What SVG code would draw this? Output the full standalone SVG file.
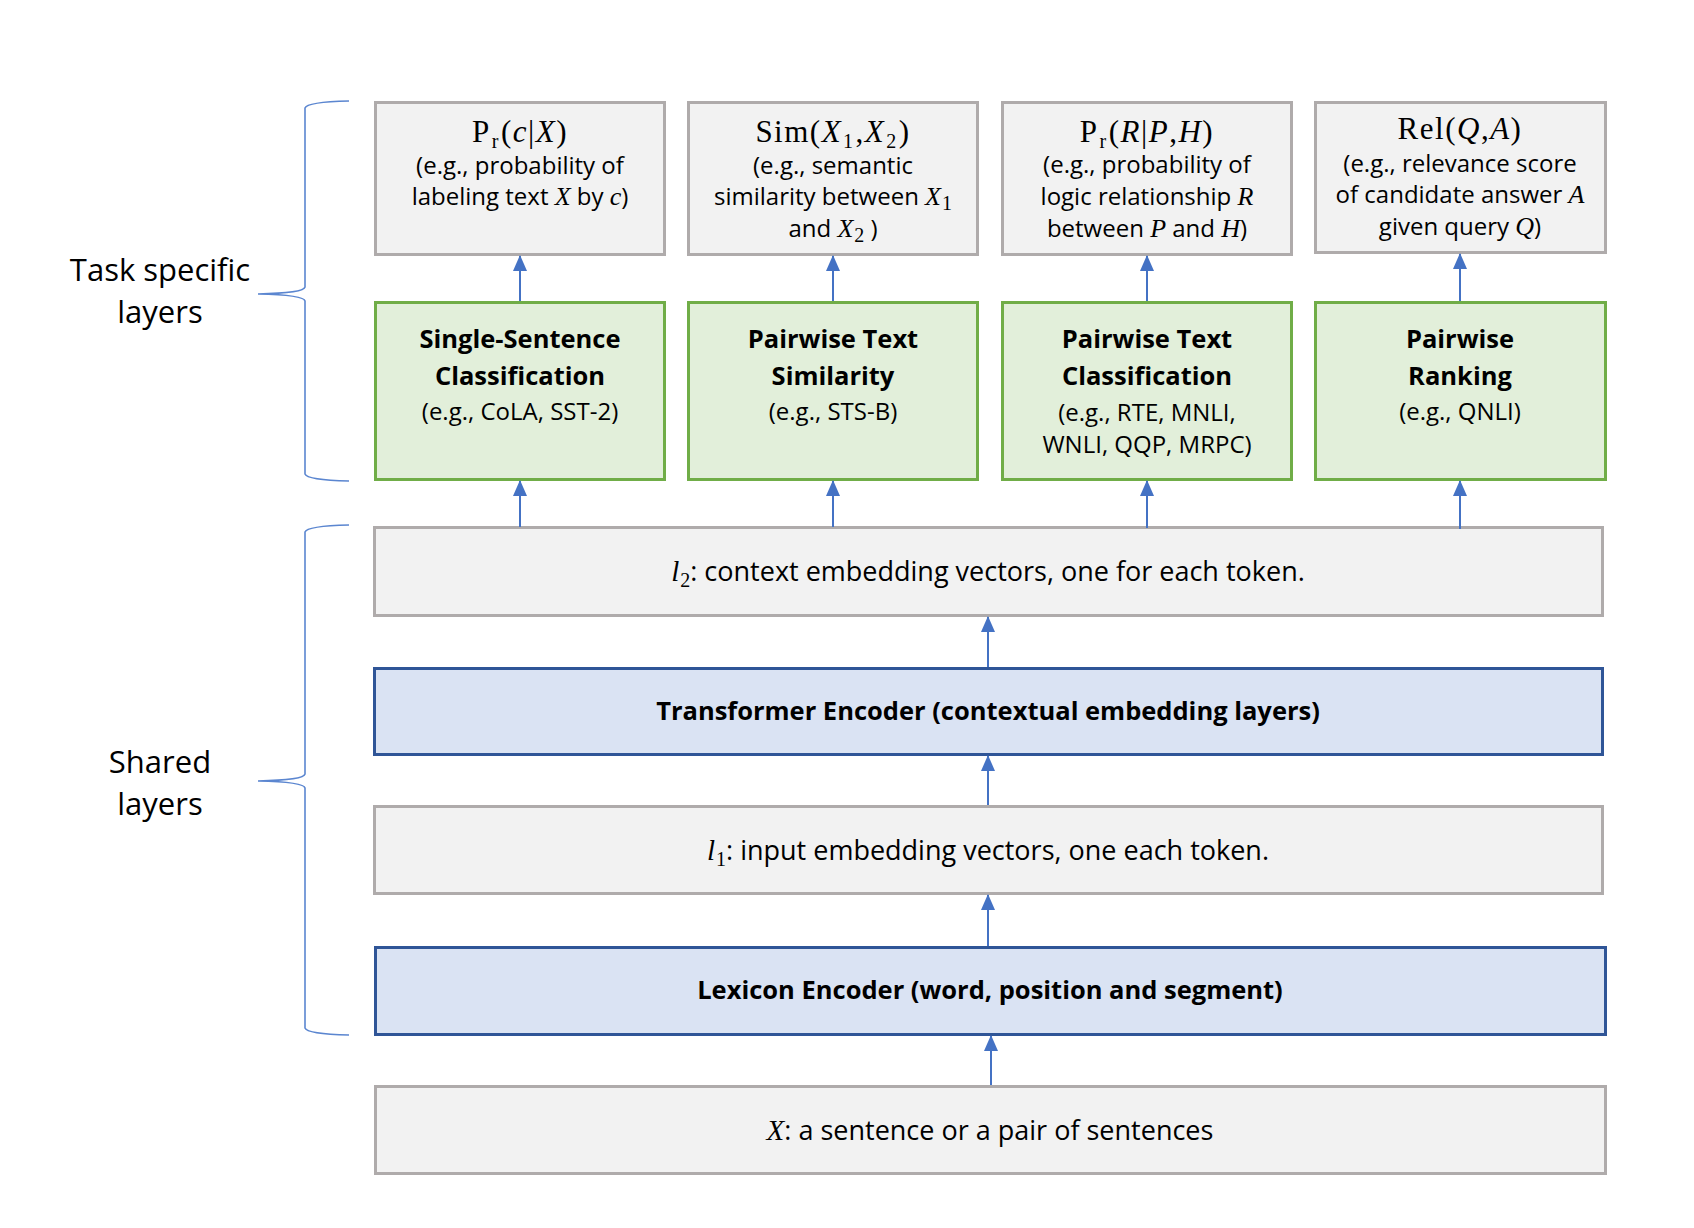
<svg xmlns="http://www.w3.org/2000/svg" width="1694" height="1228" viewBox="0 0 1694 1228">
<style>
text{font-family:"Open Sans","Noto Sans",sans-serif;fill:#000;text-anchor:middle}
.b{font-size:24px}
.t{font-size:25.5px;font-weight:bold}
.lay{font-size:27px}
.layb{font-size:25.5px;font-weight:bold}
.side{font-size:31px}
.m{font-family:"Liberation Serif",serif;font-size:31px;letter-spacing:1.5px}
.mi{font-family:"Liberation Serif",serif;font-style:italic;font-size:26px}
.mil{font-family:"Liberation Serif",serif;font-style:italic;font-size:29px}
.ms{font-family:"Liberation Serif",serif;font-size:20px;font-style:normal}
.gray{fill:#F2F2F2;stroke:#AFABAB;stroke-width:3}
.green{fill:#E2EFDA;stroke:#70AD47;stroke-width:3}
.blue{fill:#DAE3F3;stroke:#2F5597;stroke-width:3}
.arr{stroke:#4472C4;stroke-width:2;fill:none;marker-end:url(#ah)}
.brace{stroke:#5B86D0;stroke-width:1.6;fill:none}
</style>
<defs>
<marker id="ah" markerUnits="userSpaceOnUse" markerWidth="16" markerHeight="16" viewBox="0 0 16 14" refX="15" refY="7" orient="auto">
<path d="M0,0 L16,7 L0,14 z" fill="#4472C4"/>
</marker>
</defs>
<rect width="1694" height="1228" fill="#fff"/>

<g id="braces">
<path class="brace" d="M349,101 Q307,102 305,108 L305,287 Q304,293 258,294 Q304,295 305,301 L305,474 Q307,480 349,481"/>
<path class="brace" d="M349,525 Q307,526 305,532 L305,774 Q304,780 258,781 Q304,782 305,788 L305,1028 Q307,1034 349,1035"/>
</g>

<g id="label-task">
<text class="side" x="160" y="281">Task specific</text>
<text class="side" x="160" y="323">layers</text>
</g>
<g id="label-shared">
<text class="side" x="160" y="773">Shared</text>
<text class="side" x="160" y="815">layers</text>
</g>

<g id="out1">
<rect class="gray" x="375.5" y="102.5" width="289" height="152"/>
<text class="m" x="520" y="142">P<tspan class="ms" dx="1" dy="6">r</tspan><tspan dx="1" dy="-6">(</tspan><tspan font-style="italic">c</tspan>|<tspan font-style="italic">X</tspan>)</text>
<text class="b" x="520" y="174">(e.g., probability of</text>
<text class="b" x="520" y="205">labeling text <tspan class="mi">X</tspan> by <tspan class="mi">c</tspan>)</text>
</g>
<g id="out2">
<rect class="gray" x="688.5" y="102.5" width="289" height="152"/>
<text class="m" x="833" y="142">Sim(<tspan font-style="italic">X</tspan><tspan class="ms" dx="1" dy="6">1</tspan><tspan dx="1" dy="-6">,</tspan><tspan font-style="italic">X</tspan><tspan class="ms" dx="1" dy="6">2</tspan><tspan dx="1" dy="-6">)</tspan></text>
<text class="b" x="833" y="174">(e.g., semantic</text>
<text class="b" x="833" y="205">similarity between <tspan class="mi">X</tspan><tspan class="ms" dx="1" dy="5">1</tspan></text>
<text class="b" x="833" y="237">and <tspan class="mi">X</tspan><tspan class="ms" dx="1" dy="5">2</tspan><tspan dy="-5"> )</tspan></text>
</g>
<g id="out3">
<rect class="gray" x="1002.5" y="102.5" width="289" height="152"/>
<text class="m" x="1147" y="142">P<tspan class="ms" dx="1" dy="6">r</tspan><tspan dx="1" dy="-6">(</tspan><tspan font-style="italic">R</tspan>|<tspan font-style="italic">P</tspan>,<tspan font-style="italic">H</tspan>)</text>
<text class="b" x="1147" y="173">(e.g., probability of</text>
<text class="b" x="1147" y="205">logic relationship <tspan class="mi">R</tspan></text>
<text class="b" x="1147" y="237">between <tspan class="mi">P</tspan> and <tspan class="mi">H</tspan>)</text>
</g>
<g id="out4">
<rect class="gray" x="1315.5" y="102.5" width="290" height="150"/>
<text class="m" x="1460" y="139">Rel(<tspan font-style="italic">Q</tspan>,<tspan font-style="italic">A</tspan>)</text>
<text class="b" x="1460" y="172">(e.g., relevance score</text>
<text class="b" x="1460" y="203">of candidate answer <tspan class="mi">A</tspan></text>
<text class="b" x="1460" y="235">given query <tspan class="mi">Q</tspan>)</text>
</g>

<g id="task1">
<rect class="green" x="375.5" y="302.5" width="289" height="177"/>
<text class="t" x="520" y="348">Single-Sentence</text>
<text class="t" x="520" y="385">Classification</text>
<text class="b" x="520" y="420">(e.g., CoLA, SST-2)</text>
</g>
<g id="task2">
<rect class="green" x="688.5" y="302.5" width="289" height="177"/>
<text class="t" x="833" y="348">Pairwise Text</text>
<text class="t" x="833" y="385">Similarity</text>
<text class="b" x="833" y="420">(e.g., STS-B)</text>
</g>
<g id="task3">
<rect class="green" x="1002.5" y="302.5" width="289" height="177"/>
<text class="t" x="1147" y="348">Pairwise Text</text>
<text class="t" x="1147" y="385">Classification</text>
<text class="b" x="1147" y="421">(e.g., RTE, MNLI,</text>
<text class="b" x="1147" y="453">WNLI, QQP, MRPC)</text>
</g>
<g id="task4">
<rect class="green" x="1315.5" y="302.5" width="290" height="177"/>
<text class="t" x="1460" y="348">Pairwise</text>
<text class="t" x="1460" y="385">Ranking</text>
<text class="b" x="1460" y="420">(e.g., QNLI)</text>
</g>

<g id="l2">
<rect class="gray" x="374.5" y="527.5" width="1228" height="88"/>
<text class="lay" x="988" y="581"><tspan class="mil">l</tspan><tspan class="ms" dx="1" dy="6">2</tspan><tspan dy="-6">: context embedding vectors, one for each token.</tspan></text>
</g>
<g id="transformer">
<rect class="blue" x="374.5" y="668.5" width="1228" height="86"/>
<text class="layb" x="988" y="720">Transformer Encoder (contextual embedding layers)</text>
</g>
<g id="l1">
<rect class="gray" x="374.5" y="806.5" width="1228" height="87"/>
<text class="lay" x="988" y="860"><tspan class="mil">l</tspan><tspan class="ms" dx="1" dy="6">1</tspan><tspan dy="-6">: input embedding vectors, one each token.</tspan></text>
</g>
<g id="lexicon">
<rect class="blue" x="375.5" y="947.5" width="1230" height="87"/>
<text class="layb" x="990" y="999">Lexicon Encoder (word, position and segment)</text>
</g>
<g id="input">
<rect class="gray" x="375.5" y="1086.5" width="1230" height="87"/>
<text class="lay" x="990" y="1140"><tspan class="mil">X</tspan>: a sentence or a pair of sentences</text>
</g>

<g id="connectors">
<line class="arr" x1="520" y1="301" x2="520" y2="256"/>
<line class="arr" x1="833" y1="301" x2="833" y2="256"/>
<line class="arr" x1="1147" y1="301" x2="1147" y2="256"/>
<line class="arr" x1="1460" y1="301" x2="1460" y2="254"/>
<line class="arr" x1="520" y1="527" x2="520" y2="481"/>
<line class="arr" x1="833" y1="527" x2="833" y2="481"/>
<line class="arr" x1="1147" y1="528" x2="1147" y2="481"/>
<line class="arr" x1="1460" y1="529" x2="1460" y2="481"/>
<line class="arr" x1="988" y1="667" x2="988" y2="617"/>
<line class="arr" x1="988" y1="805" x2="988" y2="756"/>
<line class="arr" x1="988" y1="946" x2="988" y2="895"/>
<line class="arr" x1="991" y1="1085" x2="991" y2="1036"/>
</g>
</svg>
